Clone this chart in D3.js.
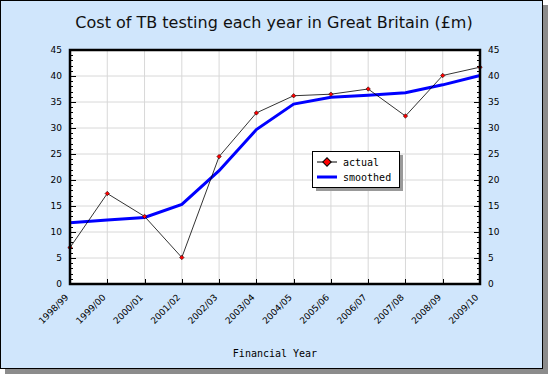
<!DOCTYPE html>
<html>
<head>
<meta charset="utf-8">
<script src="https://cdn.jsdelivr.net/npm/d3@7"></script>
<style>
  body { margin: 0; background: #fff; }
  svg text { font-family: "DejaVu Sans", Verdana, sans-serif; }
</style>
</head>
<body>
<svg id="chart" width="550" height="375"></svg>
<script>
var years = ["1998/99", "1999/00", "2000/01", "2001/02", "2002/03", "2003/04",
             "2004/05", "2005/06", "2006/07", "2007/08", "2008/09", "2009/10"];
var actual = [7.0, 17.4, 13.0, 5.1, 24.5, 32.9, 36.2, 36.5, 37.5, 32.3, 40.1, 41.7];
var smoothed = [11.8, 12.3, 12.8, 15.3, 21.8, 29.7, 34.6, 35.9, 36.3, 36.8, 38.3, 40.1];
var yTicks = [0, 5, 10, 15, 20, 25, 30, 35, 40, 45];

var svg = d3.select("#chart"),
    margin = {top: 50, left: 70, right: 70, bottom: 91},
    width = 550 - margin.left - margin.right,
    height = 375 - margin.top - margin.bottom;

// drop shadow + background panel
svg.append("rect").attr("x", 5).attr("y", 5).attr("width", 543).attr("height", 369)
    .attr("fill", "#8c8c8c");
svg.append("rect").attr("x", 0.5).attr("y", 0.5).attr("width", 542).attr("height", 368)
    .attr("fill", "#d0e6fc").attr("stroke", "#000");

svg.append("text")
    .attr("x", 274).attr("y", 28)
    .attr("text-anchor", "middle")
    .style("font-size", "16px")
    .attr("fill", "#111")
    .text("Cost of TB testing each year in Great Britain (£m)");

var x = d3.scalePoint().domain(years).range([0, width]);
var y = d3.scaleLinear().domain([0, 45]).range([height, 0]);

var g = svg.append("g").attr("transform", "translate(" + margin.left + "," + margin.top + ")");

g.append("rect").attr("width", width).attr("height", height).attr("fill", "#fff");

// grid
g.append("g").selectAll("line").data(years).enter().append("line")
    .attr("x1", function(d){ return x(d); }).attr("x2", function(d){ return x(d); })
    .attr("y1", 0).attr("y2", height)
    .attr("stroke", "#d8d8d8");
g.append("g").selectAll("line").data(yTicks).enter().append("line")
    .attr("y1", function(d){ return y(d); }).attr("y2", function(d){ return y(d); })
    .attr("x1", 0).attr("x2", width)
    .attr("stroke", "#d8d8d8");

// minor ticks
var minor = d3.range(0, 46);
g.append("g").selectAll("line").data(minor).enter().append("line")
    .attr("x1", 0).attr("x2", function(d){ return d % 5 === 0 ? 6 : 3; })
    .attr("y1", function(d){ return Math.round(y(d)) + 0.5; })
    .attr("y2", function(d){ return Math.round(y(d)) + 0.5; })
    .attr("stroke", "#000");
g.append("g").selectAll("line").data(minor).enter().append("line")
    .attr("x1", width).attr("x2", function(d){ return width - (d % 5 === 0 ? 6 : 3); })
    .attr("y1", function(d){ return Math.round(y(d)) + 0.5; })
    .attr("y2", function(d){ return Math.round(y(d)) + 0.5; })
    .attr("stroke", "#000");
g.append("g").selectAll("line").data(years).enter().append("line")
    .attr("x1", function(d){ return Math.round(x(d)) + 0.5; })
    .attr("x2", function(d){ return Math.round(x(d)) + 0.5; })
    .attr("y1", height).attr("y2", height - 5)
    .attr("stroke", "#000");

// y labels
var yl = d3.axisLeft(y).tickValues(yTicks).tickSize(0).tickPadding(8);
var yr = d3.axisRight(y).tickValues(yTicks).tickSize(0).tickPadding(8);
var gl = g.append("g").call(yl);
var gr = g.append("g").attr("transform", "translate(" + width + ",0)").call(yr);
[gl, gr].forEach(function(a){
    a.select(".domain").remove();
    a.selectAll("text").style("font-size", "9px").attr("fill", "#000");
});

// x labels
g.append("g").selectAll("text").data(years).enter().append("text")
    .attr("text-anchor", "end")
    .attr("transform", function(d){ return "translate(" + (x(d) - 1) + "," + (height + 14) + ") rotate(-45)"; })
    .style("font-size", "9px")
    .text(function(d){ return d; });

svg.append("text")
    .attr("x", margin.left + width / 2).attr("y", 357)
    .attr("text-anchor", "middle")
    .style("font-family", "'DejaVu Sans Mono', monospace")
    .style("font-size", "10px")
    .text("Financial Year");

// lines
var line = d3.line().x(function(d, i){ return x(years[i]); }).y(function(d){ return y(d); });

g.append("path").datum(smoothed).attr("d", line)
    .attr("fill", "none").attr("stroke", "#0000ff").attr("stroke-width", 3);

g.append("path").datum(actual).attr("d", line)
    .attr("fill", "none").attr("stroke", "#000").attr("stroke-width", 0.8);

var diamond = d3.symbol().type(d3.symbolSquare).size(10);
g.append("g").selectAll("path").data(actual).enter().append("path")
    .attr("d", diamond)
    .attr("transform", function(d, i){ return "translate(" + x(years[i]) + "," + y(d) + ") rotate(45)"; })
    .attr("fill", "#ff0000").attr("stroke", "#000").attr("stroke-width", 0.5);

// plot frame
g.append("rect").attr("width", width).attr("height", height)
    .attr("fill", "none").attr("stroke", "#000").attr("stroke-width", 2.5);

// legend
var lg = svg.append("g").attr("transform", "translate(312,151)");
lg.append("rect").attr("x", 4).attr("y", 4).attr("width", 87).attr("height", 36).attr("fill", "#999");
lg.append("rect").attr("x", 0.5).attr("y", 0.5).attr("width", 87).attr("height", 36)
    .attr("fill", "#fff").attr("stroke", "#000");
lg.append("line").attr("x1", 5).attr("x2", 25).attr("y1", 11).attr("y2", 11).attr("stroke", "#000");
lg.append("path").attr("d", d3.symbol().type(d3.symbolSquare).size(36))
    .attr("transform", "translate(15,11) rotate(45)")
    .attr("fill", "#ff0000").attr("stroke", "#000");
lg.append("line").attr("x1", 5).attr("x2", 25).attr("y1", 26).attr("y2", 26)
    .attr("stroke", "#0000ff").attr("stroke-width", 3);
lg.selectAll("text.lt").data(["actual", "smoothed"]).enter().append("text")
    .attr("x", 31).attr("y", function(d, i){ return 15 + i * 15; })
    .style("font-family", "'DejaVu Sans Mono', monospace")
    .style("font-size", "10px")
    .text(function(d){ return d; });
</script>
</body>
</html>
